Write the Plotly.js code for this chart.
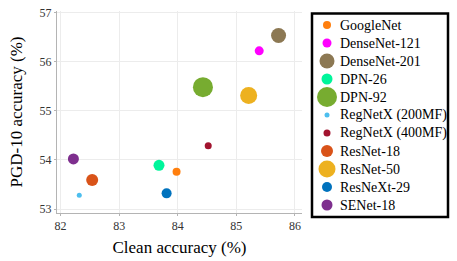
<!DOCTYPE html>
<html>
<head>
<meta charset="utf-8">
<script src="https://cdn.plot.ly/plotly-3.0.1.min.js"></script>
<style>html,body{margin:0;padding:0;background:#fff;}#chart{width:457px;height:261px;}</style>
</head>
<body>
<div id="chart"></div>
<script>
// ---- data ----
const models = ["GoogleNet","DenseNet-121","DenseNet-201","DPN-26","DPN-92","RegNetX (200MF)","RegNetX (400MF)","ResNet-18","ResNet-50","ResNeXt-29","SENet-18"];
const cleanAcc = [83.98, 85.39, 85.72, 83.68, 84.43, 82.32, 84.52, 82.54, 85.21, 83.81, 82.22];
const pgdAcc   = [53.76, 56.22, 56.53, 53.89, 55.48, 53.28, 54.29, 53.59, 55.31, 53.32, 54.02];
const xTicks = [82, 83, 84, 85, 86];
const yTicks = [53, 54, 55, 56, 57];
// ---- styles ----
const markerSize = [8, 9, 15, 11, 20, 5, 7, 12, 17, 10, 11];
const colors = ["#ff7f0e","#ff00ff","#8c7853","#00f59b","#77ac30","#4dbeee","#a2142f","#d95319","#edb120","#0072bd","#7e2f8e"];

const font = "Liberation Serif";

// main scatter
const main = {
  type: "scatter", mode: "markers", name: "models",
  x: cleanAcc, y: pgdAcc, text: models,
  marker: {size: markerSize, color: colors, opacity: 1, line: {width: 0}},
  hoverinfo: "text+x+y", showlegend: false
};

// legend drawn as a small subplot (rows spaced 18 px)
const legRow0 = 14, legStep = 18, legMarkX = 16, legTextX = 27;
const legendRows = models.map((m, i) => legRow0 + legStep * i);
const legendMarks = {
  type: "scatter", mode: "markers", xaxis: "x2", yaxis: "y2",
  x: models.map(() => legMarkX), y: legendRows,
  marker: {size: markerSize, color: colors, opacity: 1, line: {width: 0}},
  hoverinfo: "skip", showlegend: false, cliponaxis: false
};
const legendText = models.map((m, i) => ({
  xref: "x2", yref: "y2", x: legTextX, y: legendRows[i],
  text: m, showarrow: false, xanchor: "left", yanchor: "middle",
  font: {family: font, size: 14, color: "#000"}
}));

const layout = {
  width: 457, height: 261,
  margin: {l: 57, r: 0, t: 11, b: 48},
  paper_bgcolor: "#fff", plot_bgcolor: "#fff",
  font: {family: font, size: 12, color: "#000"},
  showlegend: false,
  xaxis: {
    domain: [0, 0.6125],
    range: [81.94, 86.12], tickvals: xTicks,
    showgrid: true, gridcolor: "#ececec", zeroline: false,
    showline: true, linecolor: "#b4b4b4", linewidth: 1,
    ticks: "outside", ticklen: 2, tickcolor: "#b4b4b4",
    tickfont: {family: font, size: 12, color: "#333"},
    title: {text: "Clean accuracy (%)", font: {family: font, size: 17, color: "#000"}, standoff: 8}
  },
  yaxis: {
    range: [52.92, 57.03], tickvals: yTicks,
    showgrid: true, gridcolor: "#ececec", zeroline: false,
    showline: true, linecolor: "#b4b4b4", linewidth: 1,
    ticks: "outside", ticklen: 2, tickcolor: "#b4b4b4",
    tickfont: {family: font, size: 12, color: "#333"},
    title: {text: "PGD-10 accuracy (%)", font: {family: font, size: 17, color: "#000"}, standoff: 12}
  },
  xaxis2: {domain: [0.635, 0.98], range: [0, 138], visible: false, anchor: "y2", fixedrange: true},
  yaxis2: {domain: [0, 1], range: [202, 0], visible: false, anchor: "x2", fixedrange: true},
  shapes: [{
    type: "rect", xref: "paper", yref: "paper",
    x0: (312 - 57) / 400, x1: (448 - 57) / 400,
    y0: (213 - 217) / 202, y1: (213 - 13.5) / 202,
    line: {color: "#000", width: 2.5}, fillcolor: "rgba(0,0,0,0)", layer: "below"
  }],
  annotations: legendText
};
Plotly.newPlot("chart", [main, legendMarks], layout, {displayModeBar: false, staticPlot: true});
</script>
</body>
</html>
